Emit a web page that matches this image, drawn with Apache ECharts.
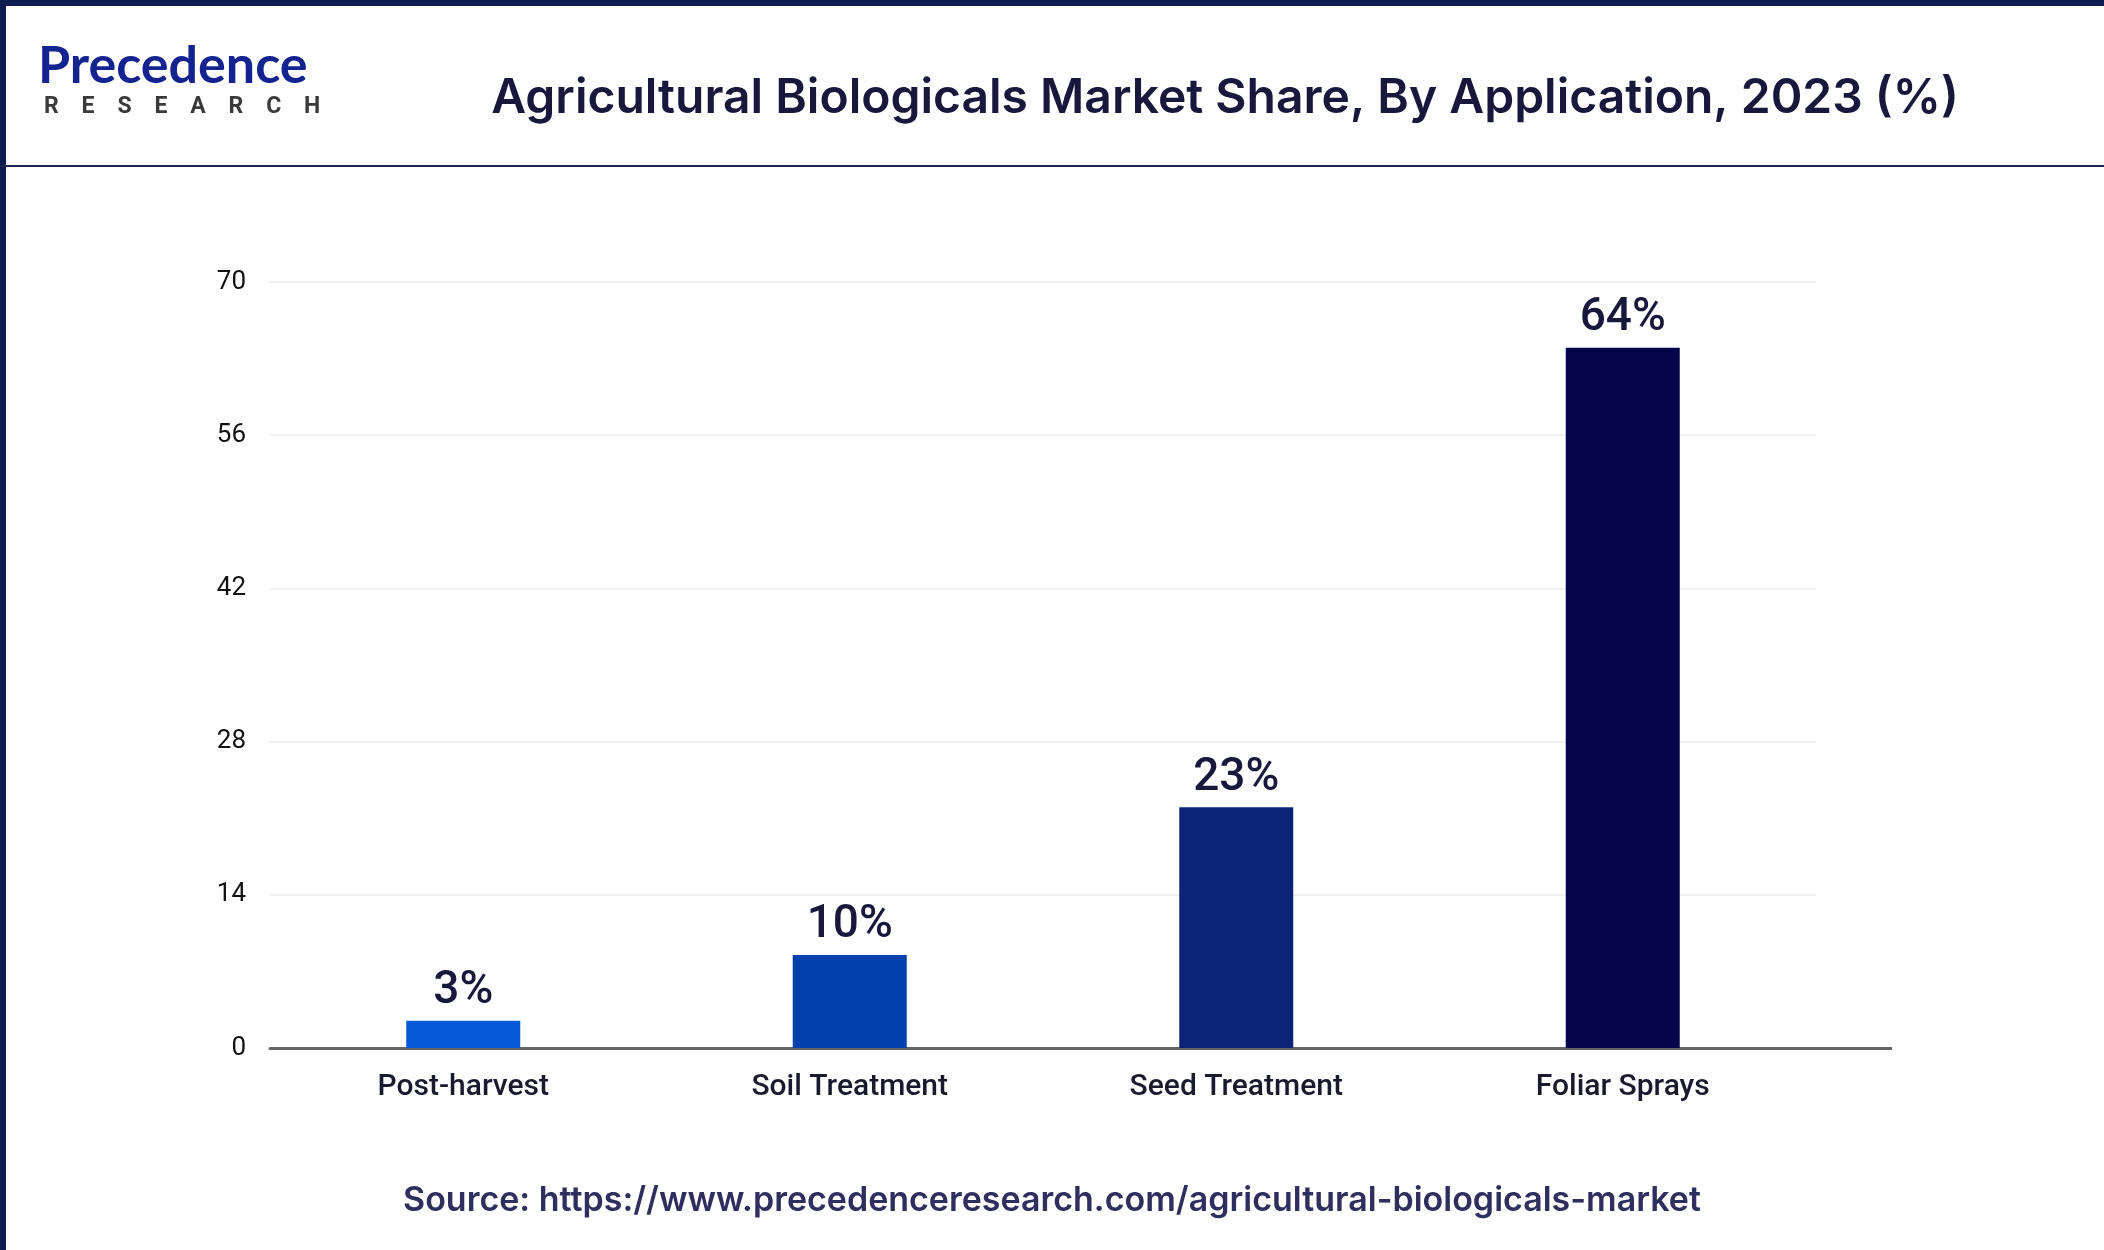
<!DOCTYPE html>
<html><head><meta charset="utf-8">
<script src="https://cdn.jsdelivr.net/npm/echarts@6/dist/echarts.min.js"></script>
<style>html,body{margin:0;padding:0;background:#fff}#c{width:2104px;height:1250px}</style>
</head><body><div id="c"></div>
<script>
const categories = ['Post-harvest', 'Soil Treatment', 'Seed Treatment', 'Foliar Sprays'];
const values = [2.5, 8.5, 22, 64];
const valueLabels = ['3%', '10%', '23%', '64%'];
const barColors = ['#055bd6', '#0041ad', '#0b2478', '#04054a'];

const chart = echarts.init(document.getElementById('c'));
chart.setOption({
  backgroundColor: '#fff',
  animation: false,
  title: {
    text: 'Agricultural Biologicals Market Share, By Application, 2023 (%)',
    left: 1220, top: 94, textAlign: 'center', textVerticalAlign: 'middle',
    textStyle: { fontFamily: 'Inter', fontSize: 48, fontWeight: 600, color: '#17183b' }
  },
  graphic: [
    { type: 'rect', left: 0, top: 0, shape: { width: 2104, height: 1250 }, style: { fill: 'none', stroke: '#0e1d4f', lineWidth: 6 }, silent: true },
    { type: 'rect', left: 0, top: 165, shape: { width: 2104, height: 2 }, style: { fill: '#1c2450' } },
    { type: 'text', style: { x: 38, y: 40, text: 'Precedence', fontFamily: 'Lato', fontSize: 52, fontWeight: 700, fill: '#13238f' } },
    { type: 'text', style: { x: 44, y: 96, text: 'R    E    S    E    A    R    C    H', fontFamily: 'Roboto', fontSize: 23, fontWeight: 700, fill: '#3a3a3a' } },
    { type: 'rect', shape: { x: 1816, y: 1047, width: 76, height: 3 }, style: { fill: '#666' } },
    { type: 'text', style: { x: 1052, y: 1201, text: 'Source: https://www.precedenceresearch.com/agricultural-biologicals-market',
      fontFamily: 'Inter', fontSize: 34, fontWeight: 600, fill: '#2e2f5e', align: 'center', verticalAlign: 'middle' } }
  ],
  grid: { left: 270, right: 288, top: 282, bottom: 202 },
  xAxis: {
    type: 'category', data: categories,
    axisLine: { lineStyle: { color: '#666', width: 3 } },
    axisTick: { show: false },
    axisLabel: { margin: 24, fontFamily: 'Roboto', fontSize: 30, fontWeight: 500, color: '#1a1a2e' }
  },
  yAxis: {
    type: 'value', min: 0, max: 70, interval: 14,
    axisLabel: { margin: 24, fontFamily: 'Roboto', fontSize: 26, color: '#111' },
    splitLine: { lineStyle: { color: '#f1f1f1', width: 2 } },
    axisLine: { show: false }, axisTick: { show: false }
  },
  series: [{
    type: 'bar', barWidth: 114,
    data: values.map((v, i) => ({ value: v, itemStyle: { color: barColors[i] } })),
    label: { show: true, position: 'top', distance: 6, fontFamily: 'Roboto', fontSize: 46, fontWeight: 500, color: '#17183b',
      formatter: (p) => valueLabels[p.dataIndex] }
  }]
});
</script></body></html>
